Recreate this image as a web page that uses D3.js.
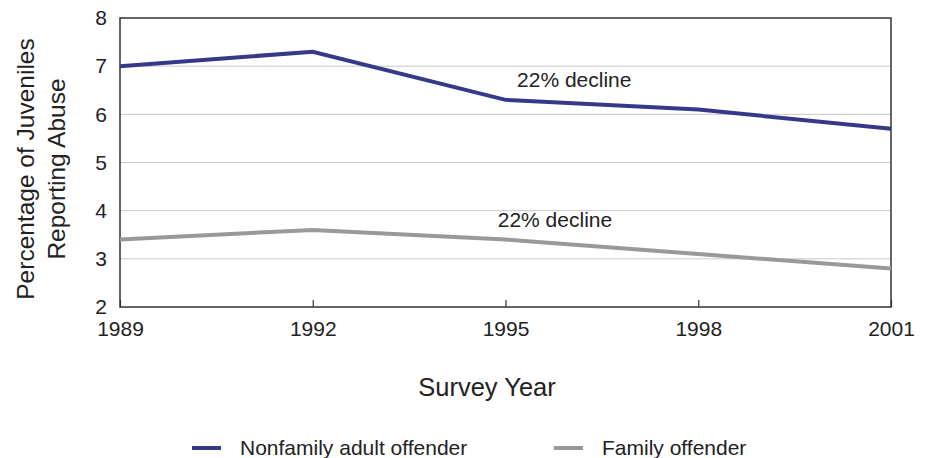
<!DOCTYPE html>
<html>
<head>
<meta charset="utf-8">
<script src="https://cdn.jsdelivr.net/npm/d3@7"></script>
<style>
  body { margin: 0; background: #fff; }
  svg text { font-family: "Liberation Sans", Arial, sans-serif; fill: #222; }
</style>
</head>
<body>
<svg id="chart" width="925" height="458"></svg>
<script>
'use strict';
var years = [1989, 1992, 1995, 1998, 2001],
    nonfamily = [7.0, 7.3, 6.3, 6.1, 5.7],
    family = [3.4, 3.6, 3.4, 3.1, 2.8],
    yTicks = [2, 3, 4, 5, 6, 7, 8];

var series = [
  {name: 'Nonfamily adult offender', values: nonfamily, color: '#38388a', note: '22% decline', noteAt: 1996.07, noteY: 6.57},
  {name: 'Family offender', values: family, color: '#999999', note: '22% decline', noteAt: 1995.77, noteY: 3.66}
];

var svg = d3.select('#chart');
var plotL = 120, plotR = 891, plotT = 18, plotB = 307;

var x = d3.scaleLinear().domain([1989, 2001]).range([plotL, plotR]);
var y = d3.scaleLinear().domain([2, 8]).range([plotB, plotT]);

// gridlines
svg.append('g')
  .selectAll('line')
  .data(yTicks.slice(1, -1))
  .enter()
  .append('line')
  .attr('x1', plotL).attr('x2', plotR)
  .attr('y1', d => y(d)).attr('y2', d => y(d))
  .attr('stroke', '#c8c8c8')
  .attr('stroke-width', 1);

// y axis
var yAxis = svg.append('g')
  .attr('transform', 'translate(' + plotL + ',0)')
  .call(d3.axisLeft(y).tickValues(yTicks).tickFormat(d3.format('d')).tickSize(0).tickPadding(13));
yAxis.select('.domain').remove();
yAxis.selectAll('text').style('font-size', '21px').attr('fill', '#222');

// x axis
var xAxis = svg.append('g')
  .attr('transform', 'translate(0,' + plotB + ')')
  .call(d3.axisBottom(x).tickValues(years).tickFormat(d3.format('d')).tickSize(-7).tickPadding(14));
xAxis.select('.domain').remove();
xAxis.selectAll('line').attr('stroke', '#333').attr('stroke-width', 1.2);
xAxis.selectAll('text').style('font-size', '21px').attr('fill', '#222');

// frame
svg.append('rect')
  .attr('x', plotL).attr('y', plotT)
  .attr('width', plotR - plotL).attr('height', plotB - plotT)
  .attr('fill', 'none')
  .attr('stroke', '#333')
  .attr('stroke-width', 1.5);

// lines
var line = d3.line()
  .x((d, i) => x(years[i]))
  .y(d => y(d));

svg.append('g')
  .selectAll('path')
  .data(series)
  .enter()
  .append('path')
  .attr('d', d => line(d.values))
  .attr('fill', 'none')
  .attr('stroke', d => d.color)
  .attr('stroke-width', 4)
  .attr('stroke-linejoin', 'miter');

// annotations
svg.append('g')
  .selectAll('text')
  .data(series)
  .enter()
  .append('text')
  .attr('x', d => x(d.noteAt))
  .attr('y', d => y(d.noteY))
  .attr('text-anchor', 'middle')
  .style('font-size', '21px')
  .text(d => d.note);

// axis titles
svg.append('text')
  .attr('x', 487).attr('y', 396)
  .attr('text-anchor', 'middle')
  .style('font-size', '25.5px')
  .text('Survey Year');

var yTitle = svg.append('text')
  .attr('transform', 'translate(34,169) rotate(-90)')
  .attr('text-anchor', 'middle')
  .style('font-size', '24.5px');
yTitle.append('tspan').attr('x', 0).attr('dy', 0).text('Percentage of Juveniles');
yTitle.append('tspan').attr('x', 0).attr('dy', 31).text('Reporting Abuse');

// legend
var legendX = [192, 554];
var legend = svg.append('g')
  .selectAll('g')
  .data(series)
  .enter()
  .append('g')
  .attr('transform', (d, i) => 'translate(' + legendX[i] + ',448)');
legend.append('line')
  .attr('x1', 0).attr('x2', 29)
  .attr('stroke', d => d.color)
  .attr('stroke-width', 4);
legend.append('text')
  .attr('x', 48).attr('y', 7)
  .style('font-size', '21px')
  .text(d => d.name);
</script>
</body>
</html>
